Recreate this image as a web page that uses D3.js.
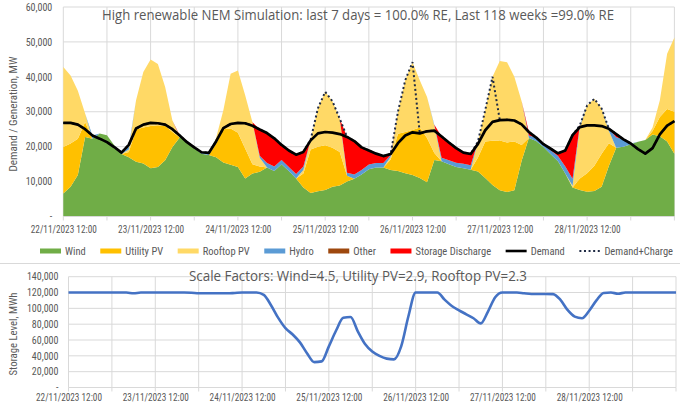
<!DOCTYPE html>
<html><head><meta charset="utf-8">
<script src="https://cdn.jsdelivr.net/npm/d3@7"></script>
<style>body{margin:0;background:#fff}svg{display:block}</style>
</head><body>
<svg id="chart" width="680" height="408"></svg>
<script>
// ---------- DATA (2-hourly, from 22/11/2023 12:00) ----------
const startTime = [2023, 10, 22, 12];
const stepHours = 2;
const tickLabels = ["22/11/2023 12:00","23/11/2023 12:00","24/11/2023 12:00","25/11/2023 12:00","26/11/2023 12:00","27/11/2023 12:00","28/11/2023 12:00"];
const titleTop = "High renewable NEM Simulation: last 7 days = 100.0% RE, Last 118 weeks =99.0% RE";
const titleBottom = "Scale Factors: Wind=4.5, Utility PV=2.9, Rooftop PV=2.3";
const seriesNames = ["Wind","Utility PV","Rooftop PV","Hydro","Other","Storage Discharge"];
const lineNames = ["Demand","Demand+Charge"];
const yTicksTop = [0,10000,20000,30000,40000,50000,60000];
const yTicksBottom = [0,20000,40000,60000,80000,100000,120000,140000];

const wind = [6600,8500,11900,22800,22300,23800,23300,20400,17900,17000,
15700,15200,13800,14200,16100,19900,22600,21800,19600,18000,
17600,17000,15500,14800,14200,10900,12300,12800,14000,13000,
15000,13000,10900,8300,6700,7200,7600,8500,8900,10000,
10800,12000,13500,14000,14000,13300,13000,12400,11900,11000,
9800,16200,15800,15000,14200,13800,13400,12900,11000,9000,
7500,7000,7500,16000,22500,21600,19900,17800,15800,12300,
8300,7600,7100,7300,8500,14500,19700,20000,20700,21400,
21900,23500,23000,21500,18000];
const utilityPV = [13300,12400,10400,4300,0,0,0,0,0,1500,
9200,10300,12100,11900,9900,4300,0,0,0,0,
0,3800,9500,10400,9800,8600,2700,1500,0,0,
0,0,0,4000,12500,12800,12800,11200,9600,1700,
0,0,0,0,0,3000,10700,11800,12900,14500,
12700,2000,0,0,0,0,0,4000,10500,12700,
14300,14200,14000,4500,0,0,0,0,0,0,
0,3300,5300,7200,9500,6500,0,0,0,0,
0,1000,5500,9300,12000];
const rooftopPV = [22900,19500,13700,2400,0,0,0,0,0,700,
8400,15900,19100,17600,11100,3300,0,0,0,0,
0,1700,5400,15700,17800,15200,12000,2500,0,0,
0,0,0,1000,2800,11000,15300,13300,9500,0,
0,0,0,0,0,800,6300,14800,19400,13500,
11700,7800,0,0,0,0,0,4600,9000,18300,
22700,23000,18500,12500,0,0,0,0,0,0,
500,14700,19400,19200,12900,3500,0,0,0,0,
0,1000,4800,15800,21300];
const hydro = [0,0,0,0,900,0,0,0,400,800,
0,0,0,0,0,0,300,0,300,500,
600,0,0,0,0,0,0,600,1300,1300,
1200,1200,1300,1000,0,0,0,0,0,800,
1200,1300,1400,1300,1300,500,0,0,0,0,
0,300,1000,1100,1200,1300,1300,0,0,0,
0,0,0,0,700,1000,800,1200,1500,2000,
2000,500,0,0,0,600,3000,2100,200,0,
0,0,0,0,0];
const other = [0,0,0,0,0,0,0,0,0,0,
0,0,0,0,0,0,0,0,0,0,
0,0,0,0,0,0,0,0,0,0,
0,0,0,0,0,0,0,0,0,0,
0,0,0,0,0,0,0,0,0,0,
0,0,0,0,0,0,0,0,0,0,
0,0,0,0,0,0,0,0,0,0,
0,0,0,0,0,0,0,0,0,0,
0,0,0,0,0];
const storageDischarge = [0,0,0,0,0,0,0,0,0,0,
0,0,0,0,0,0,300,0,0,0,
0,0,0,0,0,0,0,7500,8600,8100,
4300,4700,5500,4200,0,0,0,0,0,10300,
9600,6500,4000,2700,2000,300,0,0,0,0,
0,0,6100,5100,4200,3200,3200,0,0,0,
0,0,0,0,1000,0,0,400,800,4600,
12500,0,0,0,0,0,900,0,0,0,
0,0,0,0,0];
const demand = [26800,26800,26300,25000,23200,22300,21300,19900,18300,20500,
25200,26300,26800,26700,26300,25000,23200,21300,19800,18400,
18200,21500,25300,26500,26800,26700,26000,24900,23900,22400,
20500,18900,17700,18500,21800,23800,24200,24000,23600,22800,
21600,19800,18900,18000,17300,17900,21000,23200,24100,23800,
24400,24600,22900,21200,19600,18300,17900,20800,24700,27100,
27600,27700,27500,26400,24200,22600,20700,19400,18100,18900,
23300,25600,26100,26100,25900,25100,23600,22100,20900,19300,
18000,19600,23500,26000,27300];
const demandCharge = [26800,26800,26300,25000,23200,22300,21300,19900,18300,20500,
25200,26300,26800,26700,26300,25000,23200,21300,19800,18400,
18200,21500,25300,26500,26800,26700,26000,24900,23900,22400,
20500,18900,17700,18500,22000,31000,35700,33000,28000,22800,
21600,19800,18900,18000,17300,17900,30000,39000,44200,23800,
24400,24600,22900,21200,19600,18300,17900,21500,30500,40000,
27600,27700,27500,26400,24200,22600,20700,19400,18100,18900,
23300,26100,31800,33700,30900,25100,23600,22100,20900,19300,
18000,19600,23500,26000,27300];
const storageLevel = [120000,120000,120000,120000,120000,120000,120000,120000,120000,119000,
120000,120000,120000,120000,120000,120000,120000,119800,119000,119000,
119000,119000,119000,119500,120000,120000,120000,117000,104000,88000,
75000,67000,57000,43000,32000,33000,52000,72000,88000,89000,
71000,55000,45500,40000,36500,35500,52000,90000,120000,120000,
120000,120000,111000,103000,97500,92500,87500,81000,96000,114000,
120000,120000,120000,119000,118200,118200,118200,118000,111000,98000,
89500,87500,97000,110000,119500,120000,118500,120000,120000,120000,
120000,120000,120000,120000,120000];

// ---------- DRAWING ----------
const svg = d3.select("#chart");
const smallFont = "'Liberation Sans Narrow','Roboto Condensed',Roboto,'Liberation Sans',sans-serif";
const titleFont = "'Open Sans','Noto Sans',sans-serif";
const textGray = "#595959";
const gridColor = "#D9D9D9";
const colors = {"Wind":"#70AD47","Utility PV":"#FFC000","Rooftop PV":"#FFD966","Hydro":"#5B9BD5","Other":"#9E480E","Storage Discharge":"#FF0000"};

const t0 = new Date(startTime[0], startTime[1], startTime[2], startTime[3]);
const times = demand.map((_, i) => new Date(+t0 + i * stepHours * 3600e3));
const tEnd = times[times.length - 1];
const halfDays = d3.timeHour.every(12).range(t0, new Date(+tEnd + 1));
const labelDates = tickLabels.map((_, i) => d3.timeDay.offset(t0, i));

const rows = times.map((t, i) => ({t, "Wind": wind[i], "Utility PV": utilityPV[i], "Rooftop PV": rooftopPV[i],
  "Hydro": hydro[i], "Other": other[i], "Storage Discharge": storageDischarge[i]}));

svg.append("rect").attr("width", 680).attr("height", 408).attr("fill", "#fff");

function drawFrame(g, x, y, yTicks) {
  const [x0, x1] = x.range();
  const [yb] = y.range();
  g.append("g").selectAll("line").data(yTicks.filter(d => d > 0)).join("line")
    .attr("x1", x0).attr("x2", x1).attr("y1", d => y(d)).attr("y2", d => y(d))
    .attr("stroke", gridColor).attr("stroke-width", 1);
  g.append("g").selectAll("line").data(halfDays).join("line")
    .attr("x1", d => x(d)).attr("x2", d => x(d)).attr("y1", yb).attr("y2", y(yTicks[yTicks.length-1]))
    .attr("stroke", gridColor).attr("stroke-width", 1);
}

function drawAxes(g, x, y, yTicks, yPad, xPad) {
  const [yb] = y.range();
  const ya = g.append("g").attr("transform", `translate(${x.range()[0]},0)`)
    .call(d3.axisLeft(y).tickValues(yTicks).tickSize(0).tickPadding(yPad)
      .tickFormat(d => d === 0 ? "-" : d3.format(",")(d)));
  ya.select(".domain").remove();
  ya.selectAll("text").attr("font-family", smallFont).attr("font-size", 10).attr("fill", textGray);
  g.append("line").attr("x1", x.range()[0]).attr("x2", x.range()[1]).attr("y1", yb).attr("y2", yb)
    .attr("stroke", gridColor).attr("stroke-width", 1);
  g.append("g").selectAll("line").data(halfDays).join("line")
    .attr("x1", d => x(d)).attr("x2", d => x(d)).attr("y1", yb).attr("y2", yb + 4)
    .attr("stroke", gridColor).attr("stroke-width", 1);
  const xa = g.append("g").attr("transform", `translate(0,${yb})`)
    .call(d3.axisBottom(x).tickValues(labelDates).tickSize(0).tickPadding(xPad)
      .tickFormat((d, i) => tickLabels[i]));
  xa.select(".domain").remove();
  xa.selectAll("text").attr("font-family", smallFont).attr("font-size", 10).attr("fill", textGray)
    .attr("textLength", 66).attr("lengthAdjust", "spacingAndGlyphs");
}

// ---- Top chart ----
const xTop = d3.scaleTime().domain([t0, tEnd]).range([63.3, 674.4]);
const yTop = d3.scaleLinear().domain([0, 60000]).range([216.5, 7]);
const gTop = svg.append("g");
drawFrame(gTop, xTop, yTop, yTicksTop);

const stack = d3.stack().keys(seriesNames)(rows);
const area = d3.area().x(d => xTop(d.data.t)).y0(d => yTop(d[0])).y1(d => yTop(d[1]));
gTop.append("g").selectAll("path").data(stack).join("path")
  .attr("d", area).attr("fill", d => colors[d.key]).attr("stroke", "none");

const lineTop = d3.line().x((d, i) => xTop(times[i])).y(d => yTop(d));
gTop.append("path").attr("d", lineTop(demandCharge)).attr("fill", "none")
  .attr("stroke", "#1F2A44").attr("stroke-width", 2).attr("stroke-dasharray", "2,2.6");
gTop.append("path").attr("d", lineTop(demand)).attr("fill", "none")
  .attr("stroke", "#000").attr("stroke-width", 2.7).attr("stroke-linejoin", "round");
drawAxes(gTop, xTop, yTop, yTicksTop, 11, 9);

gTop.append("text").attr("x", 358).attr("y", 19.5).attr("text-anchor", "middle")
  .attr("font-family", titleFont).attr("font-size", 14.5).attr("fill", textGray)
  .attr("textLength", 512).attr("lengthAdjust", "spacingAndGlyphs").text(titleTop);
gTop.append("text").attr("transform", "translate(17,114) rotate(-90)").attr("text-anchor", "middle")
  .attr("font-family", smallFont).attr("font-size", 10.5).attr("fill", textGray)
  .attr("textLength", 115).attr("lengthAdjust", "spacingAndGlyphs").text("Demand / Generation, MW");

// ---- Legend ----
const legendData = seriesNames.map(n => ({name: n, kind: "rect"}))
  .concat([{name: lineNames[0], kind: "line"}, {name: lineNames[1], kind: "dot"}]);
const lg = svg.append("g");
const swW = 21, gapT = 4, lx0 = 40, lx1 = 673, ly = 251;
const items = lg.selectAll("g").data(legendData).join("g");
items.append("text").text(d => d.name).attr("font-family", smallFont).attr("font-size", 10.5)
  .attr("fill", textGray).attr("y", ly + 3.8);
const widths = [];
items.each(function() { widths.push(this.querySelector("text").getComputedTextLength()); });
const natural = d3.sum(widths) + legendData.length * (swW + gapT);
const gap = (lx1 - lx0 - natural) / (legendData.length - 1);
let cx = lx0;
items.each(function(d, i) {
  const g = d3.select(this);
  if (d.kind === "rect") {
    g.append("rect").attr("x", cx).attr("y", ly - 2.5).attr("width", swW).attr("height", 5).attr("fill", colors[d.name]);
  } else if (d.kind === "line") {
    g.append("line").attr("x1", cx).attr("x2", cx + swW).attr("y1", ly).attr("y2", ly).attr("stroke", "#000").attr("stroke-width", 2.6);
  } else {
    g.append("line").attr("x1", cx).attr("x2", cx + swW).attr("y1", ly).attr("y2", ly).attr("stroke", "#1F2A44").attr("stroke-width", 2).attr("stroke-dasharray", "2,2.6");
  }
  g.select("text").attr("x", cx + swW + gapT);
  cx += swW + gapT + widths[i] + gap;
});

// separator
svg.append("line").attr("x1", 0).attr("x2", 680).attr("y1", 263.5).attr("y2", 263.5).attr("stroke", "#D9D9D9");

// ---- Bottom chart ----
const xBot = d3.scaleTime().domain([t0, tEnd]).range([68.5, 676]);
const yBot = d3.scaleLinear().domain([0, 140000]).range([387.5, 276.7]);
const gBot = svg.append("g");
drawFrame(gBot, xBot, yBot, yTicksBottom);
gBot.append("path").attr("d", d3.line().x((d, i) => xBot(times[i])).y(d => yBot(d)).curve(d3.curveMonotoneX)(storageLevel))
  .attr("fill", "none").attr("stroke", "#4472C4").attr("stroke-width", 2.6).attr("stroke-linejoin", "round");
drawAxes(gBot, xBot, yBot, yTicksBottom, 10, 6.5);
gBot.append("text").attr("x", 358).attr("y", 281).attr("text-anchor", "middle")
  .attr("font-family", titleFont).attr("font-size", 14.5).attr("fill", textGray)
  .attr("textLength", 338).attr("lengthAdjust", "spacingAndGlyphs").text(titleBottom);
gBot.append("text").attr("transform", "translate(17,334) rotate(-90)").attr("text-anchor", "middle")
  .attr("font-family", smallFont).attr("font-size", 10.5).attr("fill", textGray)
  .attr("textLength", 83).attr("lengthAdjust", "spacingAndGlyphs").text("Storage Level, MWh");
</script>
</body></html>
